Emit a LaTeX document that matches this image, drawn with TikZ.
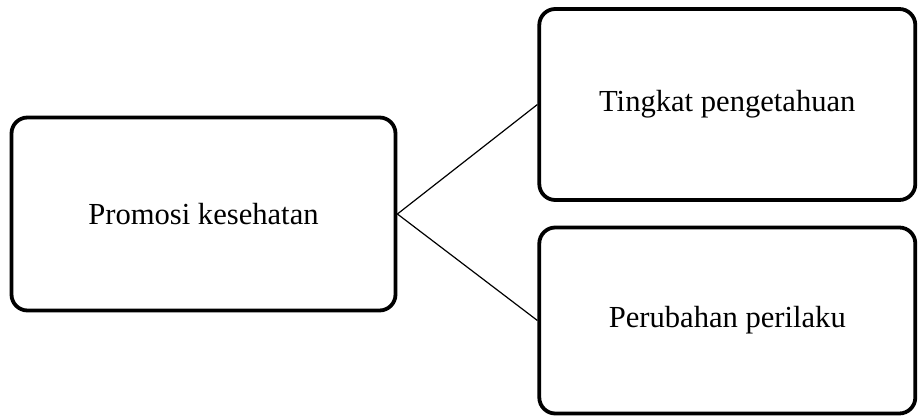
\documentclass[tikz,border=0pt]{standalone}
\usepackage{fontspec}
\setmainfont{Liberation Serif}
\usepackage{tikz}
\usetikzlibrary{positioning}

\begin{document}
\begin{tikzpicture}[
    node distance=70pt,
    box/.style={rectangle, draw, line width=1.9pt, rounded corners=8pt, text centered, font=\fontsize{15.3}{18}\selectfont},
    link/.style={line width=0.6pt}
]

% Bounding box (reference margins)
\useasboundingbox (-101.75pt,-101.5pt) rectangle (357.75pt,107pt);

% Left box
\node[box, minimum width=192pt, minimum height=96.5pt] (promosi) {Promosi kesehatan};

% Right boxes
\node[box, minimum width=188pt, minimum height=95.5pt, right=of promosi, yshift=54.75pt] (tingkat) {Tingkat pengetahuan};
\node[box, minimum width=188pt, minimum height=93pt, right=of promosi, yshift=-53.25pt] (perubahan) {Perubahan perilaku};

% Connectors
\draw[link] (promosi.east) -- (tingkat.west);
\draw[link] (promosi.east) -- (perubahan.west);

\end{tikzpicture}
\end{document}
